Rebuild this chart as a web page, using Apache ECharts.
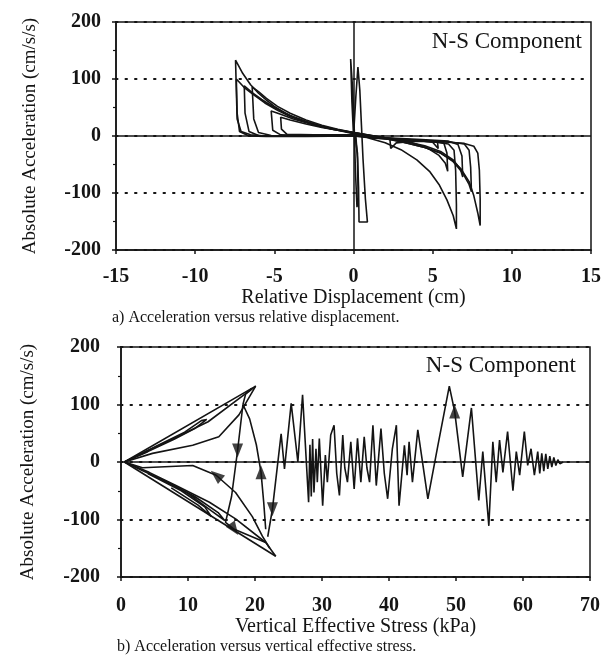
<!DOCTYPE html>
<html>
<head>
<meta charset="utf-8">
<script src="https://cdn.jsdelivr.net/npm/echarts@6/dist/echarts.min.js"></script>
<style>
html, body { margin: 0; padding: 0; background: #fff; }
#chart { width: 610px; height: 662px; }
</style>
</head>
<body>
<div id="chart"></div>
<script>
// axis ranges (tick labels come from these)
const dispRange = [-15, 15], dispStep = 5;
const stressRange = [0, 70], stressStep = 10;
const accRange = [-200, 200], accStep = 100;

// a) acceleration (cm/s/s) vs relative displacement (cm), loops
const loopA = [[0,2],[-2,1],[-4,0],[-5.5,0],[-6.5,2],[-7.1,8],[-7.35,30],[-7.4,80],[-7.45,133],[-7.0,110],[-6.5,90],[-6.0,75],[-5.5,63],[-5.0,52],[-4.3,40],[-3.5,29],[-2.5,20],[-1.5,13],[-0.5,8],[0.5,3],[1.5,-2],[2.5,-7],[3.5,-13],[4.5,-20],[5.5,-30],[6.2,-42],[6.8,-58],[7.3,-80],[7.6,-105],[7.85,-135],[8.0,-157],[8.0,-110],[7.95,-60],[7.85,-30],[7.6,-18],[7.0,-13],[6,-11],[4.5,-9],[3,-7],[1.5,-4],[0,2]];
const loopB = [[0,0],[-3,-1],[-5.5,-1],[-6.6,0],[-7.2,8],[-7.35,40],[-7.4,100],[-6.9,85],[-6.3,72],[-5.6,58],[-4.8,45],[-4,34],[-3,24],[-2,16],[-1,10],[0,4],[1,-4],[2,-12],[3,-24],[4,-42],[4.8,-62],[5.4,-85],[5.9,-112],[6.3,-140],[6.5,-163],[6.5,-120],[6.45,-60],[6.35,-25],[6.0,-14],[5,-10],[3,-7],[1,-3],[0,0]];
const loopC = [[0,1],[-3,0],[-5,0],[-6.0,1],[-6.6,8],[-6.85,40],[-6.9,88],[-6.4,76],[-5.8,64],[-5,50],[-4,36],[-3,26],[-2,17],[-1,11],[0,5],[1.5,-2],[3,-10],[4.5,-20],[5.5,-30],[6.3,-45],[6.9,-65],[7.3,-85],[7.45,-98],[7.4,-55],[7.3,-25],[7.0,-14],[6,-10],[4,-7],[2,-4],[0,1]];
const loopD = [[0,0],[-3,0],[-5.2,1],[-6.0,6],[-6.3,30],[-6.4,86],[-6.0,78],[-5.5,66],[-4.8,52],[-4,40],[-3,28],[-2,19],[-1,12],[0,6],[1.5,-1],[3,-8],[4.5,-17],[5.5,-27],[6.3,-42],[6.75,-58],[6.9,-72],[6.85,-35],[6.6,-15],[6,-9],[4,-6],[2,-3],[0,0]];
const loopE = [[0,1],[-3,1],[-4.6,2],[-5.1,10],[-5.2,44],[-4.6,38],[-3.8,30],[-2.8,22],[-1.8,15],[-0.8,10],[0.5,4],[2,-3],[3.5,-10],[4.6,-20],[5.4,-34],[5.8,-48],[5.95,-62],[5.9,-30],[5.7,-12],[5,-9],[3,-6],[1,-2],[0,1]];
const loopF = [[0,2],[-2.5,2],[-4.2,3],[-4.55,12],[-4.6,33],[-4,28],[-3,21],[-2,15],[-1,10],[0,6],[1.2,0],[2.3,-5],[2.35,-22],[2.7,-12],[3.8,-9],[5.3,-10],[5.35,-22],[5.0,-11],[3,-6],[1,-1],[0,2]];
const centerA = [[0,2],[-0.1,60],[-0.18,135],[-0.05,80],[0.05,10],[0.12,-60],[0.22,-125],[0.3,-110],[0.25,-40],[0.15,0],[0,2]];
const centerB = [[0,0],[0.15,70],[0.28,121],[0.4,80],[0.5,20],[0.6,-40],[0.75,-110],[0.88,-151],[0.35,-151],[0.32,-90],[0.25,-30],[0.1,0]];

// b) acceleration (cm/s/s) vs vertical effective stress (kPa)
const fanUpOuter = [[0.5,0],[20.1,132],[18.6,118],[18.2,100]];
const fanUpInner = [[0.5,0],[4.7,15],[10.7,29],[14.6,44],[17.6,82],[20.1,132]];
const fanUpLoop1 = [[0.5,0],[6,32],[9.5,52],[12,72],[12.8,74],[11,58],[8,40],[4,18],[0.5,0]];
const fanUpLoop2 = [[0.5,0],[7,36],[13,70],[18.5,118],[19.5,128]];
const fanLowOuter = [[0.5,0],[23.1,-164]];
const fanLowInner = [[0.5,0],[4.2,-18],[8.2,-41],[13.2,-70],[17.1,-99],[21.6,-140],[23.1,-164]];
const fanLowBranch = [[0.5,0],[3.2,-10],[10.7,-6],[14.2,-23],[17.1,-53],[19.6,-95],[21.1,-129],[22.2,-150]];
const fanLowLoop1 = [[1,-3],[6,-30],[10,-55],[13.5,-85],[15.5,-102],[14.5,-88],[11,-60],[7,-35],[3,-14]];
const fanLowLoop2 = [[4,-20],[9,-50],[12.5,-78],[13.5,-95],[11.5,-75],[7.5,-45]];
const dropA = [[18.2,100],[17.8,60],[17.4,20],[16.5,-60],[15.6,-105],[16.9,-117],[21.6,-140]];
const dropB = [[18.2,100],[19.2,75],[20.2,30],[20.9,-18],[21.3,-70],[21.6,-117]];
const osc = [[21.9,-130],[22.6,-82],[23.9,49],[24.4,-12],[25.4,102],[26.4,0],[27.1,117],[28.0,-70],[28.2,30],[28.4,-60],[28.6,40],[28.8,-53],[29.1,23],[29.3,-35],[29.6,41],[30.1,-76],[30.5,12],[30.8,-35],[31.3,47],[31.8,64],[32.2,-20],[32.6,-58],[33.1,47],[33.4,-10],[33.8,-35],[34.3,35],[34.8,-47],[35.3,41],[35.6,-5],[35.8,-35],[36.3,44],[36.7,-10],[37.1,-35],[37.6,64],[38.1,-41],[38.8,58],[39.3,-20],[39.8,-64],[40.5,23],[41.1,64],[41.5,-76],[42.3,29],[42.7,-23],[43.0,35],[43.5,-35],[44.3,56],[45.8,-64],[47.3,29],[49,132],[49.8,88],[51,-26],[52.3,94],[53.4,-67],[54,18],[54.9,-111],[55.5,35],[56,-35],[56.5,38],[57,-18],[57.7,53],[58.5,-50],[59,18],[59.5,-23],[60.2,53],[60.7,-6],[61.2,23],[61.7,-23],[62.2,18],[62.5,-20],[62.8,15],[63.1,-16],[63.4,14],[63.7,-12],[64,10],[64.3,-9],[64.6,8],[64.9,-6],[65.2,4],[65.5,-3],[66,0]];
const arrowPts = [[17.4,20],[16.9,-117],[14.2,-23],[20.9,-18],[22.6,-82],[49.8,88]];
const arrowDirs = [180, 215, 50, 0, 180, 0];

const ink = '#141414';
const serif = '"Liberation Serif", "DejaVu Serif", serif';

function trace(data, gi) {
  return {
    type: 'line', xAxisIndex: gi, yAxisIndex: gi, data: data,
    showSymbol: false, silent: true,
    lineStyle: { color: ink, width: 1.6 }
  };
}

function xAx(gi, range, step, name, gap, labelMargin) {
  return {
    gridIndex: gi, type: 'value', min: range[0], max: range[1], interval: step,
    name: name, nameLocation: 'middle', nameGap: gap,
    nameTextStyle: { fontFamily: serif, fontSize: 20, color: ink },
    axisLine: { onZero: false, lineStyle: { color: ink, width: 1.5 } },
    axisTick: { length: 4, lineStyle: { color: ink, width: 1.5 } },
    axisLabel: { margin: labelMargin, fontFamily: serif, fontWeight: 'bold', fontSize: 20, color: ink },
    splitLine: { show: false }
  };
}

function yAx(gi, gap, labelMargin) {
  return {
    gridIndex: gi, type: 'value', min: accRange[0], max: accRange[1], interval: accStep,
    name: 'Absolute Acceleration (cm/s/s)', nameLocation: 'middle', nameGap: gap,
    nameTextStyle: { fontFamily: serif, fontSize: 19, color: ink },
    axisLine: { onZero: false, lineStyle: { color: ink, width: 1.5 } },
    axisTick: { length: 4, lineStyle: { color: ink, width: 1.5 } },
    minorTick: { show: true, splitNumber: 2, length: 3, lineStyle: { color: ink, width: 1.2 } },
    axisLabel: { margin: labelMargin, fontFamily: serif, fontWeight: 'bold', fontSize: 20, color: ink },
    splitLine: { show: true, lineStyle: { color: ink, width: 2, type: [1.5, 8], cap: 'round' } }
  };
}

const topLoops = [loopA, loopB, loopC, loopD, loopE, loopF, centerA, centerB];
const botPaths = [fanUpOuter, fanUpInner, fanUpLoop1, fanUpLoop2, fanLowOuter, fanLowInner, fanLowBranch, fanLowLoop1, fanLowLoop2, dropA, dropB, osc];

const series = [];
topLoops.forEach(d => series.push(trace(d, 0)));
botPaths.forEach(d => series.push(trace(d, 1)));

// zero reference lines
series.push({
  type: 'line', xAxisIndex: 0, yAxisIndex: 0, data: [], silent: true,
  markLine: { silent: true, symbol: 'none', label: { show: false },
    lineStyle: { color: ink, width: 1.5, type: 'solid' },
    data: [{ xAxis: 0 }, { yAxis: 0 }] }
});
series.push({
  type: 'line', xAxisIndex: 1, yAxisIndex: 1, data: [], silent: true,
  markLine: { silent: true, symbol: 'none', label: { show: false },
    lineStyle: { color: ink, width: 1.5, type: 'solid' },
    data: [{ yAxis: 0 }] }
});

// direction arrows on the stress path
series.push({
  type: 'scatter', xAxisIndex: 1, yAxisIndex: 1, silent: true,
  symbol: 'triangle', symbolSize: [11, 14],
  itemStyle: { color: ink },
  data: arrowPts.map((p, i) => ({ value: p, symbolRotate: arrowDirs[i] }))
});

const option = {
  animation: false,
  backgroundColor: '#fff',
  grid: [
    { left: 116, top: 22, width: 475, height: 228, show: true, borderColor: ink, borderWidth: 1.5 },
    { left: 121, top: 347, width: 469, height: 230, show: true, borderColor: ink, borderWidth: 1.5 }
  ],
  xAxis: [
    xAx(0, dispRange, dispStep, 'Relative Displacement (cm)', 31, 17),
    xAx(1, stressRange, stressStep, 'Vertical Effective Stress (kPa)', 40, 19)
  ],
  yAxis: [yAx(0, 76, 15), yAx(1, 83, 21)],
  graphic: [
    { type: 'text', x: 582, y: 42, style: { text: 'N-S Component', font: '23px ' + serif, fill: ink, align: 'right', verticalAlign: 'middle' } },
    { type: 'text', x: 576, y: 366, style: { text: 'N-S Component', font: '23px ' + serif, fill: ink, align: 'right', verticalAlign: 'middle' } },
    { type: 'text', x: 112, y: 318, style: { text: 'a) Acceleration versus relative displacement.', font: '16px ' + serif, fill: ink, verticalAlign: 'middle' } },
    { type: 'text', x: 117, y: 647, style: { text: 'b) Acceleration versus vertical effective stress.', font: '16px ' + serif, fill: ink, verticalAlign: 'middle' } }
  ],
  series: series
};

const myChart = echarts.init(document.getElementById('chart'));
myChart.setOption(option);
</script>
</body>
</html>
